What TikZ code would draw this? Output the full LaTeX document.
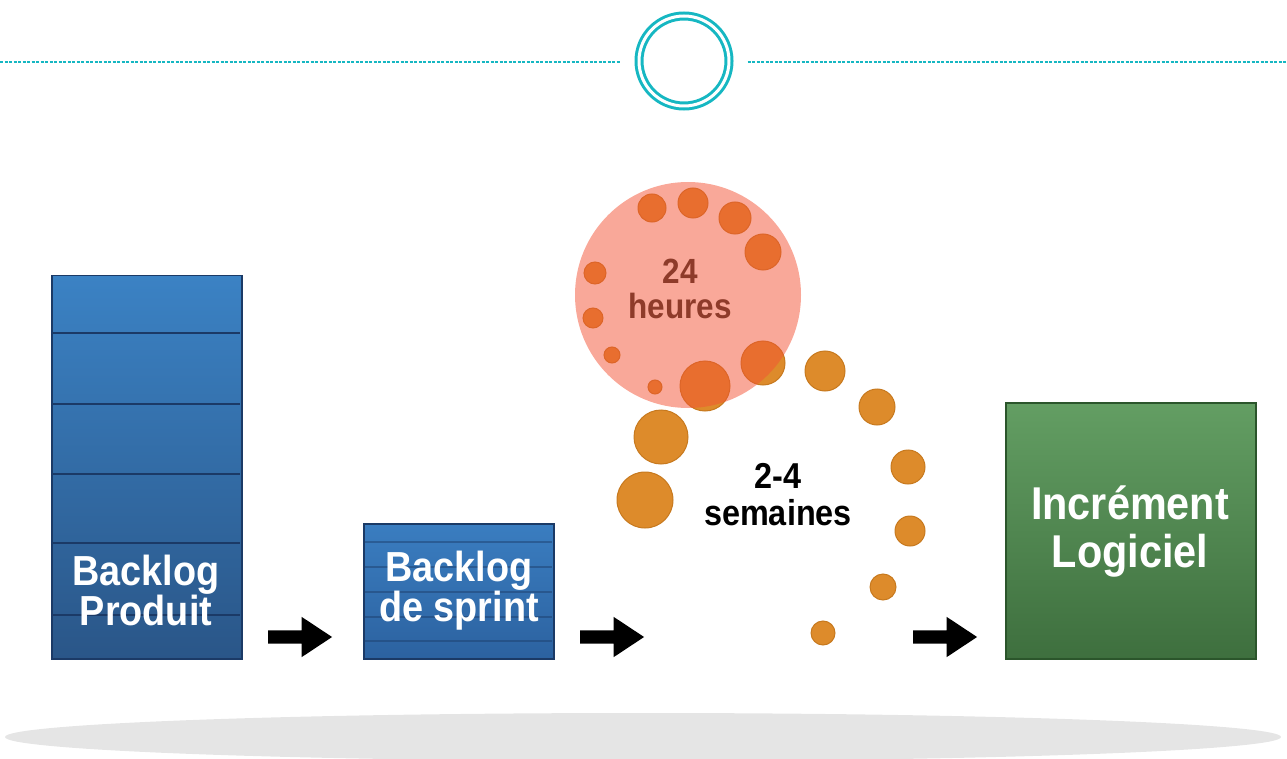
\documentclass[tikz,border=0pt]{standalone}
\usepackage{fontspec}
\setmainfont{Liberation Sans}
\newfontfamily\labelfont{Liberation Sans}[FakeStretch=0.9]
\usetikzlibrary{positioning,shapes.arrows}

\definecolor{ringcol}{HTML}{16B7C2}
\definecolor{prodtop}{HTML}{3B82C4}
\definecolor{prodbot}{HTML}{2A5688}
\definecolor{sprtop}{HTML}{3A7DC0}
\definecolor{sprbot}{HTML}{2C62A0}
\definecolor{navy}{HTML}{1B3A66}
\definecolor{leaftop}{HTML}{639E63}
\definecolor{leafbot}{HTML}{3E6F3E}
\definecolor{leafedge}{HTML}{2B552B}
\definecolor{dotfill}{HTML}{DD8B2B}
\definecolor{dotedge}{HTML}{C7791E}
\definecolor{hot}{HTML}{F35233}
\definecolor{hourtxt}{HTML}{8E3B2A}

\tikzset{
  stack/.style={draw=navy, line width=1.5pt, inner sep=0pt, shade,
    top color=#1top, bottom color=#1bot},
  sep/.style={navy, line width=2pt},
  boxtxt/.style={text=white, align=center},
  dot/.style={fill=dotfill, draw=dotedge, line width=1pt},
  push/.style={single arrow, fill=black, inner sep=6.5pt, minimum width=40pt,
    minimum height=64pt, single arrow head extend=13.5pt, single arrow tip angle=67},
  dashln/.style={ringcol, line width=1.5pt, dash pattern=on 3pt off 1.5pt}
}

\begin{document}
\begin{tikzpicture}[x=1pt, y=-1pt]
  \useasboundingbox (0,0) rectangle (1287,759);

  % bande du haut
  \node[circle, draw=ringcol, line width=3pt, double=white, double distance=3pt,
        minimum size=90pt, inner sep=0pt] (hub) at (684,61) {};
  \coordinate (lftend) at (0,62);
  \coordinate (rgtend) at (1287,62);
  \draw[dashln] (lftend) -- ([xshift=-17pt,yshift=-1pt]hub.west);
  \draw[dashln] ([xshift=17pt,yshift=-1pt]hub.east) -- (rgtend);

  % socle gris
  \fill[black!10] (643,737) ellipse[x radius=638, y radius=24];

  % backlog produit
  \node[stack=prod, minimum width=190pt, minimum height=383pt, anchor=north west] (prod) at (51,275) {};
  \foreach \y in {333,404,474,543,615}
    \draw[sep] (52,\y) -- (240,\y);
  \node[boxtxt, font=\labelfont\bfseries\fontsize{42}{40}\selectfont] (prodtxt) at (146,590) {Backlog\\Produit};

  % backlog de sprint
  \node[stack=spr, minimum width=190pt, minimum height=135pt, anchor=north west] (spr) at (363,523) {};
  \foreach \y in {542,567,592,617,641}
    \draw[sep, line width=1.2pt, opacity=0.45] (364,\y) -- (552,\y);
  \node[boxtxt, font=\labelfont\bfseries\fontsize{42}{40}\selectfont] (sprtxt) at (459,591) {Backlog\\de sprint};

  % increment
  \node[draw=leafedge, line width=1.5pt, shade, top color=leaftop, bottom color=leafbot,
        minimum width=250pt, minimum height=256pt, anchor=north west] (incr) at (1005,402) {};
  \node[boxtxt, font=\labelfont\bfseries\fontsize{46}{48}\selectfont] (incrtxt) at (1130,532) {Incrément\\Logiciel};

  % fleches
  \node[push] (arr1) at (295,637) {};
  \node[push] (arr2) at (607,637) {};
  \node[push] (arr3) at (940,637) {};

  % cycle du sprint
  \foreach \x/\y/\r in {645/500/28, 661/437/27, 705/386/25, 763/363/22, 825/371/20,
                        877/407/18, 908/467/17, 910/531/15, 883/587/13, 823/633/12}
    \draw[dot] (\x,\y) circle[radius=\r];
  % cycle journalier
  \foreach \x/\y/\r in {652/208/14, 693/203/15, 735/218/16, 763/252/18,
                        595/273/11, 593/318/10, 612/355/8, 655/387/7}
    \draw[dot] (\x,\y) circle[radius=\r];
  \fill[hot, opacity=0.5] (688,295) circle[radius=113];

  \node[align=center, text=hourtxt, font=\labelfont\bfseries\fontsize{35}{35}\selectfont] (hours) at (680,289) {24\\heures};
  \node[align=center, font=\labelfont\bfseries\fontsize{36}{37}\selectfont] (weeks) at (778,495) {2-4\\semaines};
\end{tikzpicture}
\end{document}
